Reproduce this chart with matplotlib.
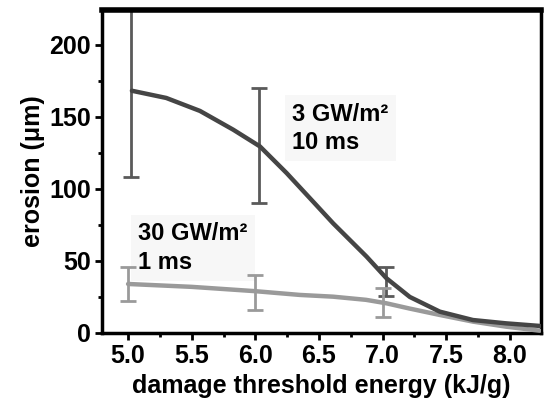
import matplotlib
matplotlib.use("Agg")
import matplotlib.pyplot as plt
from matplotlib.ticker import MultipleLocator

# values
energy_3gw = [5.03, 5.30, 5.565, 5.826, 6.036, 6.245, 6.35, 6.455, 6.612,
              6.874, 7.03, 7.214, 7.45, 7.71, 7.97, 8.235]
erosion_3gw = [168, 163, 154, 141, 129.4, 111, 101, 91, 76,
               53, 38, 25, 14.8, 9, 6.7, 4.9]
energy_30gw = [5.0, 5.5, 6.0, 6.35, 6.61, 6.87, 7.03, 7.21, 7.45, 7.71, 7.97, 8.235]
erosion_30gw = [34, 32, 29, 26.4, 25.2, 23, 20.6, 17, 12.5, 7.9, 4.4, 1.6]

err_x_3gw = [5.025, 6.03, 7.03]
err_lo_3gw = [108, 90, 26]
err_hi_3gw = [240, 170, 46]
err_x_30gw = [5.0, 6.0, 7.0]
err_lo_30gw = [22, 16, 11]
err_hi_30gw = [46, 40, 31]

plt.rcParams['font.family'] = ['Liberation Sans', 'DejaVu Sans']
plt.rcParams['font.weight'] = 'bold'

fig = plt.figure(figsize=(5.44, 4.08), dpi=100)
ax = fig.add_axes([102 / 544, 1 - 333 / 408, 439 / 544, 323 / 408])

dark = '#454545'
light = '#9a9a9a'

def draw_err(xs, lo, hi, color):
    mid = [(a + b) / 2 for a, b in zip(lo, hi)]
    half = [(b - a) / 2 for a, b in zip(lo, hi)]
    ax.errorbar(xs, mid, yerr=half, fmt='none', ecolor=color, elinewidth=2,
                capsize=6, capthick=2, zorder=2)

draw_err(err_x_3gw, err_lo_3gw, err_hi_3gw, '#5a5a5a')
draw_err(err_x_30gw, err_lo_30gw, err_hi_30gw, light)
ax.plot(energy_30gw, erosion_30gw, color=light, lw=3.2, zorder=3, solid_capstyle='round')
ax.plot(energy_3gw, erosion_3gw, color=dark, lw=3.2, zorder=4, solid_capstyle='round')

ax.set_xlim(4.795, 8.245)
ax.set_ylim(0, 224)
ax.xaxis.set_major_locator(MultipleLocator(0.5))
ax.xaxis.set_minor_locator(MultipleLocator(0.25))
ax.yaxis.set_major_locator(MultipleLocator(50))
ax.yaxis.set_minor_locator(MultipleLocator(25))
ax.set_xticks([5.0, 5.5, 6.0, 6.5, 7.0, 7.5, 8.0])
ax.set_xticklabels(['5.0', '5.5', '6.0', '6.5', '7.0', '7.5', '8.0'])

ax.tick_params(axis='both', which='major', direction='out', length=5, width=2,
               labelsize=18, pad=3)
ax.tick_params(axis='both', which='minor', direction='out', length=3, width=2)
ax.tick_params(top=False, right=False)
for side in ['left', 'bottom', 'right']:
    ax.spines[side].set_linewidth(2.5)
ax.spines['top'].set_linewidth(4)

ax.set_xlabel('damage threshold energy (kJ/g)', fontsize=18, fontweight='bold', labelpad=4)
ax.set_ylabel('erosion (\u03bcm)', fontsize=18, fontweight='bold', labelpad=3)

box = dict(boxstyle='square,pad=0.3', facecolor='#f7f7f7', edgecolor='none')
ax.text(6.29, 142, '3 GW/m\u00b2\n10 ms', fontsize=17, fontweight='bold',
        va='center', ha='left', linespacing=1.3, bbox=box, zorder=5)
ax.text(5.08, 59, '30 GW/m\u00b2\n1 ms', fontsize=17, fontweight='bold',
        va='center', ha='left', linespacing=1.3, bbox=box, zorder=1)

fig.savefig('out.png', dpi=100)
